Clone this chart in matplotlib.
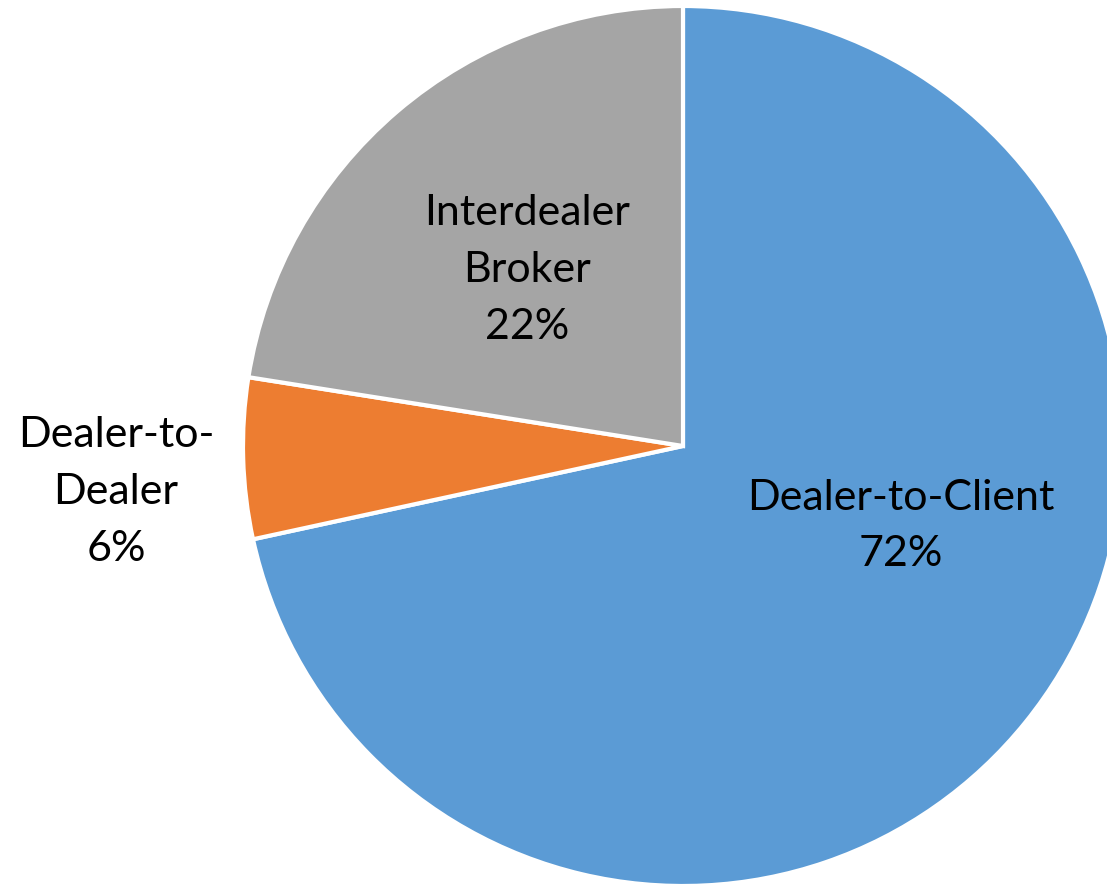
import matplotlib
matplotlib.use('Agg')
import matplotlib.pyplot as plt

# Pie data (clockwise from the top)
segments = ['Dealer-to-Client', 'Dealer-to-Dealer', 'Interdealer Broker']
shares = [71.6, 5.9, 22.5]
shown_pct = ['72%', '6%', '22%']
label_text = ['Dealer-to-Client', 'Dealer-to-\nDealer', 'Interdealer\nBroker']
colors = ['#5B9BD5', '#ED7D31', '#A5A5A5']

W, H = 1107, 885
fig = plt.figure(figsize=(W / 100, H / 100), dpi=100)
ax = fig.add_axes([0, 0, 1, 1])

cx, cy, r = 683, H - 446, 440
ax.pie(shares, colors=colors, startangle=90, counterclock=False,
       center=(cx, cy), radius=r, frame=True,
       wedgeprops=dict(edgecolor='white', linewidth=3))
ax.set_xlim(0, W)
ax.set_ylim(0, H)
ax.set_aspect('equal')
ax.axis('off')

# label placement in pixel coordinates (x, y from top)
label_pos = [(901, 526), (116, 492), (527, 270)]
for txt, pct, (lx, ly) in zip(label_text, shown_pct, label_pos):
    ax.text(lx, H - ly, f'{txt}\n{pct}', ha='center', va='center',
            fontsize=31, family=['Lato', 'DejaVu Sans'], color='black',
            linespacing=1.6)

fig.savefig('out.png', dpi=100)
